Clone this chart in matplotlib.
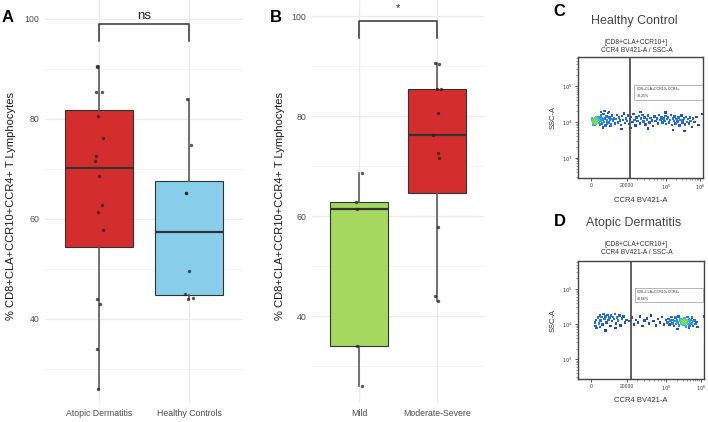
import numpy as np
import matplotlib
matplotlib.use("Agg")
import matplotlib.pyplot as plt
from matplotlib.colors import LinearSegmentedColormap
from matplotlib.patches import Rectangle

plt.rcParams['font.family'] = ['Liberation Sans', 'DejaVu Sans']

# ---- panel A / B data (% CD8+CLA+CCR10+CCR4+ T lymphocytes)
ad_vals = [90.7, 90.5, 85.4, 85.4, 80.7, 76.3, 72.7, 71.7, 68.6, 62.9, 61.5, 57.8, 44.1, 43.1, 34.0, 26.1]
ad_jit = [-0.026, -0.02, -0.03, 0.033, -0.015, 0.044, -0.037, -0.041, 0.004, 0.037, -0.007, 0.041, -0.019, 0.011, -0.019, -0.007]
hc_vals = [84.1, 74.9, 65.3, 65.3, 49.6, 45.1, 44.0, 44.3]
hc_jit = [-0.019, 0.026, -0.033, -0.033, 0.0, -0.044, -0.011, 0.041]
mild_vals = [68.6, 62.9, 61.5, 34.0, 26.1]
mild_jit = [0.034, -0.034, -0.03, -0.026, 0.038]
ms_vals = [90.7, 90.5, 85.4, 85.4, 80.7, 76.3, 72.7, 71.7, 57.8, 44.1, 43.1]
ms_jit = [-0.026, 0.021, 0.0, 0.047, 0.013, -0.047, 0.013, 0.026, 0.013, -0.03, 0.013]

groups_a = ['Atopic Dermatitis', 'Healthy Controls']
groups_b = ['Mild', 'Moderate-Severe']
colors_a = ['#D42D2D', '#87CEEB']
colors_b = ['#A5D85E', '#D42D2D']
sig_a = 'ns'
sig_b = '*'

# ---- panel C / D flow data (x: display channel 0-1000, y: log10 SSC-A)
hc_flow = [
    (112, 4.02), (118, 4.06), (122, 3.98), (125, 4.04), (128, 4.08), (130, 4.00), (133, 4.05), (136, 3.96),
    (138, 4.03), (140, 4.10), (143, 4.01), (146, 4.06), (150, 3.99), (153, 4.04), (156, 4.08), (120, 3.93),
    (132, 3.92), (145, 3.94), (115, 4.10), (148, 4.12), (126, 4.01), (135, 4.07), (142, 3.99), (119, 4.03),
    (165, 4.05), (170, 3.97), (175, 4.12), (180, 4.02), (186, 4.18), (192, 3.95), (198, 4.07), (205, 4.22),
    (210, 4.00), (216, 4.10), (222, 3.90), (228, 4.15), (235, 4.04), (240, 4.25), (246, 3.98), (252, 4.12),
    (258, 4.06), (265, 3.93), (272, 4.18), (280, 4.02), (288, 4.10), (295, 3.96), (185, 4.28), (215, 4.30),
    (250, 4.27), (200, 3.85), (260, 3.88), (168, 4.14), (178, 3.93), (190, 4.09), (232, 3.95), (275, 4.08),
    (305, 4.08), (312, 4.20), (320, 3.99), (328, 4.12), (336, 4.04), (345, 3.92), (352, 4.16), (360, 4.06),
    (368, 4.24), (376, 3.97), (385, 4.10), (393, 4.02), (400, 4.18), (410, 3.94), (418, 4.08), (425, 4.14),
    (435, 4.00), (444, 4.22), (452, 4.06), (460, 3.90), (470, 4.12), (478, 4.03), (488, 4.17), (496, 3.96),
    (505, 4.09), (515, 4.20), (524, 4.01), (532, 4.13), (540, 3.93), (550, 4.07), (560, 4.18), (570, 3.99),
    (580, 4.11), (590, 4.04), (600, 3.88), (610, 4.15), (620, 4.02), (630, 4.09), (640, 3.95), (648, 4.19),
    (350, 3.80), (420, 3.83), (500, 4.28), (560, 3.82),
    (660, 4.06), (668, 4.13), (675, 3.98), (683, 4.10), (690, 4.03), (698, 4.17), (705, 3.94), (712, 4.08),
    (720, 4.12), (728, 3.99), (735, 4.05), (742, 4.20), (750, 3.92), (757, 4.10), (765, 4.02), (772, 4.15),
    (780, 3.96), (788, 4.08), (795, 4.01), (803, 4.12), (810, 3.90), (818, 4.06), (825, 4.18), (833, 3.98),
    (840, 4.04), (848, 4.10), (855, 3.93), (863, 4.14), (870, 4.00), (878, 4.08), (885, 3.95), (893, 4.12),
    (900, 4.03), (910, 3.86), (920, 4.10), (930, 4.00), (945, 4.14), (960, 3.92), (992, 4.22), (760, 3.78),
    (850, 3.75), (700, 4.26),
]
ad_flow = [
    (135, 4.05), (140, 3.95), (145, 4.12), (150, 3.88), (160, 4.18), (168, 4.02), (175, 4.25), (182, 4.10),
    (190, 4.20), (196, 3.98), (205, 4.28), (212, 4.15), (220, 4.22), (228, 4.05), (235, 4.26), (242, 4.12),
    (250, 4.18), (258, 3.95), (265, 4.24), (272, 4.08), (280, 4.20), (288, 4.14), (296, 4.28), (305, 4.02),
    (312, 4.19), (320, 4.10), (330, 4.24), (340, 3.96), (350, 4.16), (362, 4.22), (375, 4.05), (388, 4.12),
    (222, 3.82), (300, 3.88), (178, 3.92),
    (410, 4.08), (428, 4.18), (445, 3.98), (460, 4.12), (478, 4.05), (495, 4.22), (512, 3.94), (530, 4.10),
    (548, 4.16), (565, 4.02), (582, 4.25), (600, 4.08), (618, 3.96), (636, 4.14), (652, 4.04), (668, 4.20),
    (685, 3.99), (700, 4.12),
    (712, 4.05), (720, 4.15), (728, 3.98), (735, 4.10), (742, 4.20), (750, 4.02), (756, 4.12), (762, 3.94),
    (768, 4.08), (774, 4.18), (780, 4.00), (786, 4.11), (792, 4.05), (798, 4.22), (804, 3.96), (810, 4.09),
    (815, 4.14), (820, 4.02), (825, 4.07), (830, 4.12), (834, 3.98), (838, 4.05), (842, 4.10), (846, 4.16),
    (850, 4.03), (854, 4.08), (858, 3.93), (862, 4.12), (866, 4.06), (870, 4.20), (874, 4.00), (878, 4.09),
    (882, 4.14), (886, 3.96), (890, 4.05), (895, 4.11), (900, 4.02), (906, 4.18), (912, 3.95), (918, 4.08),
    (925, 4.12), (932, 4.00), (940, 4.06), (948, 3.92), (828, 4.04), (836, 4.09), (844, 4.06), (852, 4.11),
    (840, 4.01), (832, 4.15), (848, 3.99), (822, 4.10), (860, 4.04), (998, 4.22), (790, 3.86), (880, 3.88),
]
gate_x = 420
gate_pct = ['78,25%', '43,66%']
flow_titles = ['Healthy Control', 'Atopic Dermatitis']
x_ticks = [106, 390, 703, 974]
x_ticklabels = ['0', '20000', '$10^5$', '$10^6$']
y_ticks = [3, 4, 5]
y_ticklabels = ['$10^3$', '$10^4$', '$10^5$']

W, H = 708, 422
fig = plt.figure(figsize=(W / 100, H / 100), dpi=100)


def px_axes(x0, y0, x1, y1):
    return fig.add_axes([x0 / W, 1 - y1 / H, (x1 - x0) / W, (y1 - y0) / H])


def box_panel(ax, data, jits, labels, colors, ylim, sig, sig_y, sig_size, ylab_x, ylab_y):
    bp = ax.boxplot(data, positions=[1, 2], widths=0.75, patch_artist=True, showcaps=False,
                    showfliers=False,
                    boxprops=dict(edgecolor='#333333', lw=0.8),
                    whiskerprops=dict(color='#5a5a5a', lw=1.2),
                    medianprops=dict(color='#333333', lw=1.6))
    for patch, c in zip(bp['boxes'], colors):
        patch.set_facecolor(c)
    for i, (vals, jit) in enumerate(zip(data, jits)):
        ax.scatter(np.array(jit) + i + 1, vals, s=6, color='#222222', alpha=0.75, lw=0, zorder=5)
    ax.set_xlim(0.4, 2.6)
    ax.set_ylim(*ylim)
    for s in ax.spines.values():
        s.set_visible(False)
    ax.set_yticks([40, 60, 80, 100])
    ax.set_yticks([30, 50, 70, 90], minor=True)
    ax.set_xticks([1, 2], labels)
    ax.grid(True, which='major', color='#EBEBEB', lw=0.9)
    ax.grid(True, which='minor', axis='y', color='#F3F3F3', lw=0.6)
    ax.set_axisbelow(True)
    ax.tick_params(length=0, labelsize=6.3, labelcolor='#4D4D4D', pad=4)
    ax.tick_params(which='minor', length=0)
    ax.plot([1, 1, 2, 2], [95.7, 99.0, 99.0, 95.7], color='#333333', lw=1.1, clip_on=False)
    ax.text(1.5, sig_y, sig, ha='center', va='center', fontsize=sig_size, color='#222222')
    ax.set_ylabel('% CD8+CLA+CCR10+CCR4+ T Lymphocytes', fontsize=8, color='#1a1a1a')
    ax.yaxis.set_label_coords(ylab_x, ylab_y)


axA = px_axes(45, 0, 243, 403)
box_panel(axA, [ad_vals, hc_vals], [ad_jit, hc_jit], groups_a, colors_a,
          (23.2, 103.8), sig_a, 100.6, 9.5, -0.146, 0.488)
axB = px_axes(312, 0, 484, 403)
box_panel(axB, [mild_vals, ms_vals], [mild_jit, ms_jit], groups_b, colors_b,
          (22.66, 103.26), sig_b, 101.6, 8, -0.157, 0.49)

fig.text(8 / W, 1 - 17 / H, 'A', fontsize=12, fontweight='bold', ha='center', va='center')
fig.text(276 / W, 1 - 17 / H, 'B', fontsize=12, fontweight='bold', ha='center', va='center')

cmap = LinearSegmentedColormap.from_list('flow', ['#1d45d0', '#2a8ff0', '#36c6d0', '#8edc3a'])


def flow_panel(ax, pts, pct):
    xy = np.array(pts, dtype=float)
    # density colouring from neighbour counts (screen-ish units)
    sx = xy[:, 0] / 1000.0
    sy = (xy[:, 1] - 2.43) / 3.37
    d2 = (sx[:, None] - sx[None, :]) ** 2 + (sy[:, None] - sy[None, :]) ** 2
    dens = (d2 < 0.035 ** 2).sum(axis=1).astype(float)
    dens = (dens - dens.min()) / (dens.max() - dens.min())
    order = np.argsort(dens)
    ax.scatter(xy[order, 0], xy[order, 1], c=dens[order], cmap=cmap, s=3.2, marker='s', lw=0, zorder=3)
    ax.set_xlim(0, 1000)
    ax.set_ylim(2.43, 5.80)
    ax.axvline(gate_x, color='#444444', lw=1.2, zorder=4)
    for s in ax.spines.values():
        s.set_color('#444444')
        s.set_linewidth(1.0)
    ax.set_xticks(x_ticks)
    ax.set_xticklabels(x_ticklabels)
    ax.set_yticks(y_ticks)
    ax.set_yticklabels(y_ticklabels)
    minor_y = [np.log10(k) + d for d in (2, 3, 4, 5) for k in range(2, 10)]
    ax.set_yticks([m for m in minor_y if 2.43 < m < 5.8], minor=True)
    minor_x = [390 + (703 - 390) * np.log10(k / 2) / np.log10(5) for k in range(3, 10)] + \
              [703 + (974 - 703) * np.log10(k) for k in range(2, 10)]
    ax.set_xticks([m for m in minor_x if m < 1000], minor=True)
    ax.tick_params(labelsize=3.6, length=2, width=0.6, pad=1.5, color='#444444', labelcolor='#333333')
    ax.tick_params(which='minor', length=1.2, width=0.4, color='#444444')
    ax.set_xlabel('CCR4 BV421-A', fontsize=5.5, color='#333333', labelpad=3)
    ax.set_ylabel('SSC-A', fontsize=5.5, color='#333333', labelpad=4)
    ax.add_patch(Rectangle((0.45, 0.65), 0.545, 0.12, transform=ax.transAxes, fill=False,
                           edgecolor='#999999', lw=0.5, zorder=5))
    ax.text(0.47, 0.735, 'CD8+CLA+CCR10+CCR4+', transform=ax.transAxes, fontsize=2.6,
            color='#333333', va='center', ha='left')
    ax.text(0.47, 0.685, pct, transform=ax.transAxes, fontsize=2.6, color='#333333',
            va='center', ha='left')


axC = px_axes(577.7, 57.3, 703.3, 178.3)
flow_panel(axC, hc_flow, gate_pct[0])
axD = px_axes(577.7, 261, 704, 379)
flow_panel(axD, ad_flow, gate_pct[1])

narrow = ['Liberation Sans Narrow', 'Liberation Sans', 'DejaVu Sans']
for title, ty, sy in [(flow_titles[0], 21, 42), (flow_titles[1], 223, 244)]:
    fig.text(634 / W, 1 - ty / H, title, fontsize=9, family=narrow, color='#444444',
             ha='center', va='center')
    fig.text(636.5 / W, 1 - sy / H, '[CD8+CLA+CCR10+]', fontsize=4.8, color='#333333',
             ha='center', va='center')
    fig.text(636.5 / W, 1 - (sy + 8.5) / H, 'CCR4 BV421-A / SSC-A', fontsize=4.8, color='#333333',
             ha='center', va='center')
fig.text(559 / W, 1 - 11 / H, 'C', fontsize=12, fontweight='bold', ha='center', va='center')
fig.text(560 / W, 1 - 222 / H, 'D', fontsize=12, fontweight='bold', ha='center', va='center')

fig.savefig('out.png', dpi=100)
